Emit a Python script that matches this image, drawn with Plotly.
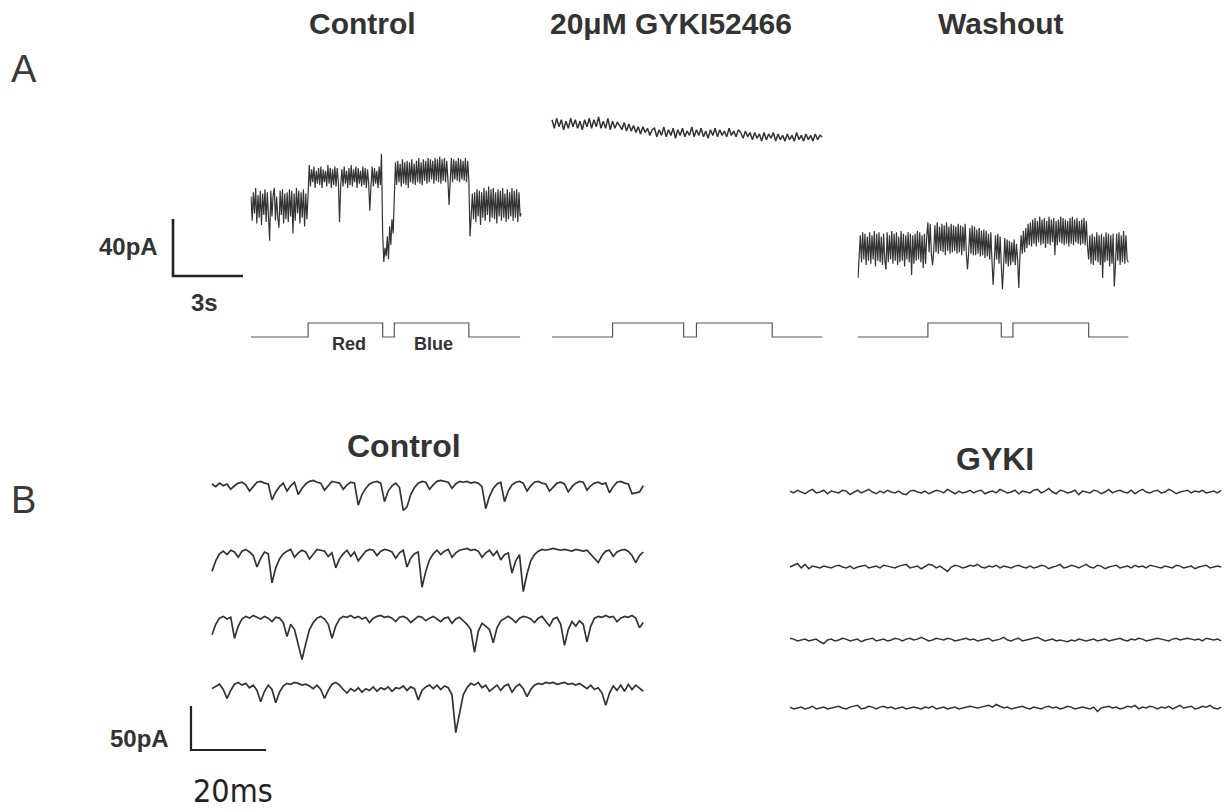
import numpy as np
import plotly.graph_objects as go

W, H = 1228, 812

# ---------------- DATA ----------------
# Panel A: whole-cell currents (pA)
A_DT_FINE = 0.05   # s, Control / Washout sampling
A_DT_GYKI = 0.1    # s, GYKI sampling
a_control = [6, -11, 9, -6, 12, -13, 7, -9, 10, -14,
             8, -7, 11, -12, 9, -10, -25, 10, -8, 7,
             12, -11, 6, -9, -16, 10, -7, 11, -13, 8,
             -10, 9, -12, 11, -8, 10, -20, 8, -11, 12,
             -6, 10, -13, 9, -9, 11, -15, 8, -10, 7,
             28, 13, 25, 16, 27, 12, 24, 15, 26, 14,
             27, 12, 25, 16, 24, 13, 28, 15, 26, 12,
             25, 14, 27, 13, 26, 16, -12, 14, 25, 13,
             27, 15, 24, 12, 26, 14, 28, 13, 25, 16,
             27, 12, 26, 15, 24, 13, 27, 14, 26, 12,
             25, 15, -4, 14, 27, 13, 26, 15, 24, 12,
             27, 14,
             36, -20, -40, -30, -36, -22, -38, -15, -28, -10, -20, 5,
             30, 14, 31, 16, 29, 13, 32, 15, 30, 14,
             31, 12, 30, 16, 32, 15, 29, 14, 31, 16,
             33, 15, 30, 14, 32, 17, 31, 15, 33, 16,
             32, 18, 31, 15, 33, 17, 32, 16, 34, 15,
             32, 17, 33, 16, 31, 18, 0, 17, 33, 16,
             32, 18, 31, 17, 33, 16, 32, 18, 31, 17,
             33, 16, 31, 17,
             -22, -8, 8, -10, 9, -12, 11, -8, 10, -14,
             9, -9, 12, -11, 10, -7, 13, -12, 11, -9,
             12, -10, 9, -13, 11, -8, 10, -11, 12, -9,
             8, -12, 11, -10, 9, -8, 12, -11, 10, -9,
             11, -12, 9, -8, -6]
a_gyki = [3, -3, 4, -2, 3, -4, 2, -3, 4, -2,
          3, -3, 2, -4, 3, -2, 4, -3, 3, -2,
          5, -3, 2, -3, 4, -4, 2, -3, 1,
          -1, -4, 1, -5, 0, -5, -1, -6, -2, -7, -2, -6, -3, -8, -4,
          -3, -9, -4, -8, -2, -9, -4, -8, -3, -10,
          -4, -8, -3, -9, -5, -8, -2, -9, -4, -8,
          -3, -9, -5, -10, -4, -8, -3, -9, -4, -8,
          -5, -9, -3, -8, -5, -9, -4,
          -6, -10, -5, -9, -6, -11, -6, -10, -7, -12,
          -6, -11, -7, -10, -6, -12, -7, -11, -8, -12,
          -7, -11, -8, -12, -6, -11, -8, -12, -7, -11,
          -8, -12, -7, -11, -8, -9]
a_washout = [-21, -8, 9, -10, 11, -8, 10, -12, 8, -9,
             11, -11, 9, -8, 12, -13, 10, -9, 11, -10,
             8, -12, 10, -9, -15, 11, -10, 9, -8, 12,
             -11, 10, -9, 11, -12, 8, -10, 12, -9, 10,
             -13, 9, -8, 11, -10, 10, -19, 9, -11, 10,
             -9, 12, -8, 11, -10, 9, -14, 10, -11, 8,
             18, -3, 17, -4, -12, -2, 16, -3, 18, -4,
             15, -2, 17, -3, 16, -5, 18, -2, 15, -4,
             17, -3, 16, -2, 15, -4, 17, -3, 16, -5,
             15, -2, 17, -4, -15, -3, 14, -4, 16, -5,
             15, -5, 13, -4, 14, -6, 12, -5, 13, -7,
             12, -6, 10, -8, 11, -9, -26, -10, 9, -8,
             10, -11, 8, -12, -29, -12, 7, -11, 6, -13,
             5, -12,
             4, -10, 6, -12, 3, -8, -28, -6, 9, -4,
             12, -3, 14, 0, 17, 2, 18, 1, 20, 3,
             21, 1, 19, 4, 22, 2, 20, 3, 21, 0,
             19, 3, 22, 2, 20, 4, 21, -5, 19, 2,
             20, 4, 22, 3, 21, 2, 20, 3, 19, 1,
             21, 3, 22, 2, 20, 4, 21, 3, 19, 2,
             20, 3, 21, 2, 19, 1,
             -8, 9, -11, 10, -12, 8, -9, 11, -10, 9,
             -12, 10, -21, 8, -10, 11, -9, 10, -13, 9,
             -11, 10, -27, -12, 10, -9, 11, -12, 9, -10,
             12, -11, 9, -8, -10]

# Light-stimulus timing (s) and on/off level
stim_levels = [0, 0, 1, 1, 0, 0, 1, 1, 0, 0]
stim_control_t = [0, 2.45, 2.45, 5.65, 5.65, 6.15, 6.15, 9.35, 9.35, 11.55]
stim_gyki_t = [0, 2.6, 2.6, 5.65, 5.65, 6.2, 6.2, 9.45, 9.45, 11.6]
stim_washout_t = [0, 3.0, 3.0, 6.15, 6.15, 6.65, 6.65, 9.9, 9.9, 11.6]

# Panel B: sweeps (pA), sampled every 1 ms
B_DT = 1.0
b_control_1 = [0, -3, 1, -2, 0, -6, -2, 1, 2, -1,
               -8, -3, 2, 3, 1, 0, -18, -9, -3, 1,
               -8, -2, 2, -12, -5, 0, 3, 4, 2, 1,
               -7, -2, 3, 2, 1, -6, -1, 2, 1, -24,
               -12, -5, 0, 2, 3, 1, -20, -8, -2, 1,
               -4, -30, -26, -12, -4, 1, 3, 2, -6, -1,
               3, 4, 3, 2, -5, 0, 3, 2, 3, 1,
               2, 1, -3, -28, -14, -5, 0, 2, -20, -8,
               -1, 2, 3, 1, -8, -2, 2, 3, 1, 0,
               -8, -3, 1, 2, 0, -9, -3, 1, 3, 2,
               -7, -2, 1, 2, 0, 1, -10, -3, 2, 3,
               1, 0, -11, -10, -9, -2]
b_control_2 = [-22, -10, -2, 1, -3, 2, 0, -6, 1, 3,
               0, -4, -17, -7, 0, -2, -35, -18, -8, -2,
               1, 3, -6, -1, 2, 0, -8, -2, 3, 2,
               1, -5, -1, -18, -8, -2, 2, -5, 0, -10,
               -4, 1, 3, 2, -4, 1, 3, 2, 0, -7,
               -1, 2, -17, -7, -2, 0, -40, -22, -9, -2,
               2, -3, 1, 3, -6, -1, 2, 3, 4, 2,
               3, 1, -6, -1, 2, -4, 1, -9, -3, -1,
               -24, -10, -3, -45, -25, -10, -3, 1, 3, 2,
               3, 4, 3, 2, 3, 2, 1, 3, 2, 1,
               2, -3, -7, -12, -4, 1, 2, -5, 0, 2,
               3, 1, -4, -12, -4, 0]
b_control_3 = [-18, -6, 1, 3, 0, 2, -22, -8, 0, 3,
               1, 4, 2, 0, 3, 1, -3, 2, 1, -4,
               -20, -6, -12, -30, -46, -28, -12, -4, 1, 3,
               0, -6, -22, -8, 0, 3, 2, 4, 1, 3,
               0, 2, -4, 1, 3, 4, 2, 3, 1, -3,
               2, 3, 1, -4, 0, 3, 2, -2, 1, 3,
               0, -3, 1, 2, -5, 0, 2, -2, -6, -12,
               -38, -14, -5, -8, -12, -27, -10, -2, 1, 3,
               0, -4, 1, 3, 2, 0, -4, 1, 3, -3,
               -8, 0, 2, -6, -30, -12, -3, -8, -2, -6,
               -26, -8, 1, 3, 2, 4, 2, 3, -3, 1,
               3, 2, 4, 1, -10, -4]
b_control_4 = [-3, 0, 2, -4, -14, -5, 2, 4, 1, 3,
               -2, 1, -5, -18, -6, 1, -4, -19, -7, 0,
               3, 2, 4, 3, 1, 2, 0, -3, 1, -4,
               -14, -5, 2, 4, 1, -4, -8, -3, -6, -2,
               -7, -3, -5, -1, -6, -2, -4, -1, -6, -2,
               -3, 0, -5, -1, -3, -16, -5, -1, 1, -3,
               1, -4, 0, -2, -10, -53, -30, -10, -2, 3,
               1, 4, -2, 1, -6, -2, 1, -5, 0, 2,
               -7, -1, 2, -3, -12, -4, 1, 3, 2, 4,
               3, 4, 2, 3, 4, 2, 3, 1, 3, 0,
               -3, 1, -4, -2, -8, -22, -8, 0, -5, 1,
               -6, 2, -4, 1, -2, -6]
b_gyki_1 = [1, -1, 2, 0, -2, 1, 3, -1, 0, 2,
            -2, 1, 0, -1, 2, 1, -3, 0, 2, -1,
            1, 3, 0, -2, 1, -1, 2, 0, -1, 1,
            -2, -3, 1, 2, 0, -1, 1, -2, 0, 2,
            1, -1, 3, 0, -2, 1, -1, 0, 2, -1,
            1, 2, -2, 0, 1, -1, 3, 1, -1, 0,
            2, -2, 1, 0, -1, 2, 3, -1, 1, 4,
            0, -2, 2, 1, -1, 0, 2, -3, 1, 0,
            -1, 2, 1, -2, 0, 3, -1, 1, 2, 0,
            -1, 2, -2, 1, 3, 0, -1, 1, 2, -1,
            0, 3, 1, -2, 0, 1, 2, -1, 1, 0,
            2, -1, 0, 1, -1, 2]
b_gyki_2 = [0, 2, 4, -1, 3, -2, 1, 0, -1, 1,
            0, -1, 1, 2, 0, -1, 1, -2, 0, 1,
            2, -1, 0, 1, -1, 2, 1, 0, -1, 1,
            2, 3, -1, 0, 1, -2, 1, 3, 2, -1,
            1, -2, -5, 0, 2, 1, -1, 0, 2, 1,
            3, 0, -1, 1, 0, 2, -1, 1, 0, -1,
            1, 2, 0, -1, 1, -1, 0, 2, 1, -2,
            0, 1, 3, -1, 0, 2, 1, -1, 1, 3,
            0, -1, 2, 1, -2, 0, 1, 2, -1, 0,
            1, -1, 2, 0, 1, -1, 2, 1, 0, -1,
            1, 0, -1, 2, 1, -1, 0, 1, -2, 0,
            1, 2, -1, 0, 1, 0]
b_gyki_3 = [2, 1, -1, 0, 1, -1, 0, 1, -2, -4,
            0, 1, -1, 0, 2, 1, -1, 0, 1, -2,
            0, 1, 2, -1, 0, 1, -1, 0, 2, 1,
            -1, 1, 2, 0, 1, 3, 1, -1, 0, 2,
            1, 0, 2, 1, -1, 0, 1, 2, 0, 1,
            -1, 0, 1, 2, -1, 0, 1, 3, 0, -1,
            1, 2, -1, 0, 1, 2, 3, 1, -1, 0,
            1, -1, 0, -1, -2, 0, -1, 1, 0, -1,
            0, 1, -1, 0, 1, -1, 0, 1, 2, 0,
            -1, 1, 0, 2, 1, -1, 0, 1, 2, 1,
            0, -1, 1, 2, 0, 1, 2, 1, 0, 1,
            -1, 2, 1, 0, 1, -1]
b_gyki_4 = [1, -1, 0, 1, -1, 0, 2, -1, 0, 1,
            -1, 0, 1, 2, 0, -1, 1, 2, 3, -1,
            0, 2, 1, -1, 1, 2, 0, 1, -1, 0,
            1, -1, 0, 1, 0, -1, 1, 0, 2, -1,
            0, 1, -1, 0, 1, -1, 0, 1, 2, 1,
            0, 1, 2, 3, 1, 4, 2, 0, 1, -1,
            0, 1, 2, 0, -1, 1, 0, -1, 1, 2,
            0, 1, -1, 0, 2, 1, -1, 0, 1, 0,
            -1, 1, -4, 0, 1, 2, 0, 1, -1, 0,
            2, 1, 3, -1, 1, 0, 2, 1, -1, 1,
            0, 2, -1, 1, 3, 0, 1, 2, -1, 0,
            2, 1, 3, 0, -1, 1]

# Scale bars
scale_a_time, scale_a_amp = 3, 40      # s, pA
scale_b_time, scale_b_amp = 20, 50     # ms, pA

# ---------------- LAYOUT HELPERS ----------------
fig = go.Figure()
_count = [0]

# pixel scales
A_SX, A_SY = 23.3, 1.425     # px per s, px per pA
B_SX, B_SY = 3.75, 0.88      # px per ms, px per pA
STIM_SY = 14.0               # px per on/off unit


def _clip(v):
    return min(1.0, max(0.0, v))


def add_panel(x0, y0, sx, sy, xr, yr):
    _count[0] += 1
    i = _count[0]
    sfx = '' if i == 1 else str(i)
    left = x0 + xr[0] * sx
    right = x0 + xr[1] * sx
    top = y0 - yr[1] * sy
    bottom = y0 - yr[0] * sy
    fig.update_layout({
        f'xaxis{sfx}': dict(domain=[_clip(left / W), _clip(right / W)], range=list(xr),
                            visible=False, anchor=f'y{sfx}', fixedrange=True),
        f'yaxis{sfx}': dict(domain=[_clip(1 - bottom / H), _clip(1 - top / H)], range=list(yr),
                            visible=False, anchor=f'x{sfx}', fixedrange=True),
    })
    return f'x{sfx}', f'y{sfx}'


def add_line(x, y, xa, ya, width=1.0, color='#2f2f2f'):
    fig.add_trace(go.Scatter(x=x, y=y, mode='lines', xaxis=xa, yaxis=ya,
                             line=dict(color=color, width=width),
                             hoverinfo='skip', showlegend=False))


def add_trace_panel(values, dt, x0, y0, sx, sy, width, color='#2f2f2f'):
    t = np.arange(len(values)) * dt
    xr = (-0.5 * dt, t[-1] + 0.5 * dt)
    yr = (min(values) - 4, max(values) + 4)
    xa, ya = add_panel(x0, y0, sx, sy, xr, yr)
    add_line(t, values, xa, ya, width, color)


# ---------------- PANEL A ----------------
add_trace_panel(a_control, A_DT_FINE, 251, 205, A_SX, A_SY, 1.2, '#333333')
add_trace_panel(a_gyki, A_DT_GYKI, 552, 124, A_SX, A_SY, 1.5, '#333333')
add_trace_panel(a_washout, A_DT_FINE, 858, 248, A_SX, A_SY, 1.2, '#333333')

for st, x0 in [(stim_control_t, 251), (stim_gyki_t, 552), (stim_washout_t, 858)]:
    xa, ya = add_panel(x0, 337, A_SX, STIM_SY, (-0.2, 11.8), (-0.3, 1.3))
    add_line(st, stim_levels, xa, ya, 1.2, '#555555')

xa, ya = add_panel(173, 276, A_SX, A_SY, (-0.2, 3.2), (-2, 42))
add_line([0, 0, scale_a_time], [scale_a_amp, 0, 0], xa, ya, 2.6, '#222222')

# ---------------- PANEL B ----------------
for vals, y0 in [(b_control_1, 484), (b_control_2, 552), (b_control_3, 619), (b_control_4, 686)]:
    add_trace_panel(vals, B_DT, 212, y0, B_SX, B_SY, 1.7, '#333333')
for vals, y0 in [(b_gyki_1, 492), (b_gyki_2, 567), (b_gyki_3, 640), (b_gyki_4, 708)]:
    add_trace_panel(vals, B_DT, 790, y0, B_SX, B_SY, 1.5, '#333333')

xa, ya = add_panel(191, 750, B_SX, B_SY, (-1, 21), (-3, 52))
add_line([0, 0, scale_b_time], [scale_b_amp, 0, 0], xa, ya, 2.2, '#222222')

# ---------------- TEXT ----------------
def label(text, px, py, size, bold=True, xanchor='center', family='Liberation Sans, Arial, sans-serif', color='#333333'):
    fig.add_annotation(x=px / W, y=1 - py / H, xref='paper', yref='paper',
                       text=text, showarrow=False, xanchor=xanchor, yanchor='middle',
                       font=dict(size=size, family=family, color=color,
                                 weight='bold' if bold else 'normal'))


label('A', 24, 69, 38, bold=False, color='#3a3a3a')
label('B', 24, 500, 38, bold=False, color='#3a3a3a')
label('Control', 362, 24, 30)
label('20μM GYKI52466', 671, 24, 30)
label('Washout', 1001, 24, 30)
label('40pA', 160, 246, 24, xanchor='right')
label('3s', 204, 303, 24)
label('Red', 349, 344, 18)
label('Blue', 433, 344, 18)
label('Control', 404, 446, 32)
label('GYKI', 995, 459, 32)
label('50pA', 171, 738, 24, xanchor='right')
label('20ms', 233, 791, 32, bold=False, family='DejaVu Sans Condensed, Liberation Sans Narrow, sans-serif', color='#222222')

fig.update_layout(width=W, height=H, margin=dict(l=0, r=0, t=0, b=0),
                  paper_bgcolor='white', plot_bgcolor='white',
                  showlegend=False, hovermode=False)

fig.write_html('out.html')
